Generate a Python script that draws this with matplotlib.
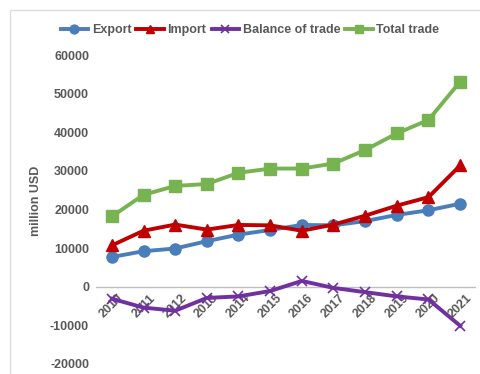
# Trade chart: export, import, balance and total trade 2010-2021

import numpy as np
import matplotlib.pyplot as plt
from matplotlib.patches import Rectangle

# %% Data

years = ['2010', '2011', '2012', '2013', '2014', '2015',
         '2016', '2017', '2018', '2019', '2020', '2021']
export = [7700, 9200, 9900, 11800, 13500, 14700, 16000, 15900, 17000, 18600, 19800, 21500]
imports = [10700, 14500, 16100, 14800, 16000, 15900, 14500, 16100, 18400, 21000, 23200, 31400]
balance = [-3100, -5400, -6200, -2900, -2500, -1100, 1500, -300, -1400, -2500, -3300, -10100]
total = [18200, 23800, 26100, 26600, 29500, 30600, 30600, 31900, 35400, 39700, 43200, 53100]

y_ticks = [-20000, -10000, 0, 10000, 20000, 30000, 40000, 50000, 60000]

# %% Plot

plt.rcParams['font.family'] = ['Liberation Sans', 'DejaVu Sans']
txt_color = '#595959'

W, H = 481, 374
fig = plt.figure(figsize=(W/100, H/100), dpi=100)

# light frame of the original chart area (cropped on right and bottom)
fig.patches.append(Rectangle((10/W, -0.1), 1.2, (H - 10)/H + 0.1, transform=fig.transFigure,
                             facecolor='white', edgecolor='#dcdcdc', linewidth=1.0,
                             zorder=-10))

ax = fig.add_axes([96/W, 1 - 364/H, (476 - 96)/W, (364 - 55)/H])
ax.patch.set_alpha(0)

x = np.arange(len(years))
l1, = ax.plot(x, export, color='#4a7ebb', lw=2.8, marker='o', ms=8, label='Export', zorder=3)
l2, = ax.plot(x, imports, color='#c00000', lw=2.8, marker='^', ms=8, label='Import', zorder=3)
l3, = ax.plot(x, balance, color='#7030a0', lw=2.8, marker='x', ms=7, mew=1.2,
              label='Balance of trade', zorder=3)
l4, = ax.plot(x, total, color='#77b350', lw=2.8, marker='s', ms=8, label='Total trade', zorder=3)

ax.axhline(0, color='#bfbfbf', lw=1.0, zorder=0)
ax.set_xlim(-0.5, len(years) - 0.5)
ax.set_ylim(-20000, 60000)
ax.set_yticks(y_ticks)
ax.set_yticklabels([str(v) for v in y_ticks], fontsize=9, fontweight='bold', color=txt_color)
ax.tick_params(axis='y', length=0, pad=5)
ax.set_xticks([])
for s in ax.spines.values():
    s.set_visible(False)

for i, yr in enumerate(years):
    ax.annotate(yr, (i, 0), xytext=(4, -4), textcoords='offset points',
                rotation=45, ha='right', va='top', fontsize=9, fontweight='bold',
                color=txt_color, rotation_mode='anchor', zorder=1)

ax.set_ylabel('million USD', fontsize=9, fontweight='bold', color=txt_color)
ax.yaxis.set_label_coords(-0.142, 0.527)

fig.legend(handles=[l1, l2, l3, l4], loc='center', bbox_to_anchor=(250/W, 1 - 30/H),
           ncol=4, frameon=False, handlelength=2.2, handletextpad=0.3,
           columnspacing=0.4, markerscale=0.8, prop={'weight': 'bold', 'size': 9},
           labelcolor=txt_color)

fig.savefig('out.png', dpi=100)
